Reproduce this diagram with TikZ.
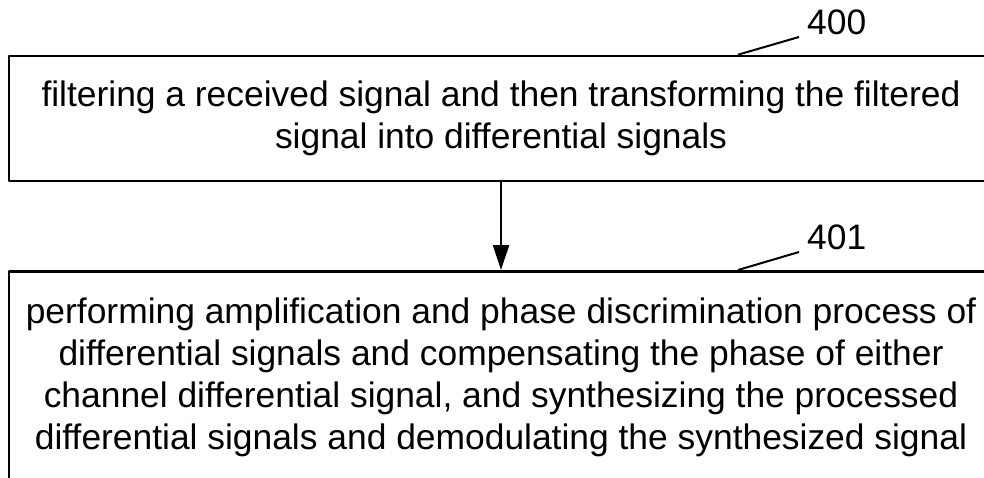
\documentclass[tikz,border=0pt]{standalone}
\usepackage{fontspec}
\setmainfont{Liberation Sans}
\usetikzlibrary{arrows.meta}

\begin{document}
\begin{tikzpicture}[x=1pt, y=-1pt, line join=round, >={Triangle[length=25pt,width=16pt]}, every node/.style={font=\fontsize{35.4}{41.7}\selectfont}, stepbox/.style={draw, line width=2.6pt, inner ysep=0pt, inner xsep=0pt, minimum width=984pt, align=center}, reflabel/.style={inner sep=0pt, anchor=south west}, leader/.style={line width=2pt}]
	\clip (0,0) rectangle (984,478);
	\node[stepbox, minimum height=125pt] (filter) at (501,118.5) {filtering a received signal and then transforming the filtered\\signal into differential signals};
	\node[stepbox, anchor=north, inner ysep=27pt, text depth=20pt] (demod) at (501,270) {performing amplification and phase discrimination process of\\differential signals and compensating the phase of either\\channel differential signal, and synthesizing the processed\\differential signals and demodulating the synthesized signal};
	\draw[line width=2.4pt, ->] (filter.south) -- (demod.north);
	% reference numerals
	\node[reflabel] (num400) at (807,35) {400};
	\node[reflabel] (num401) at (807,250) {401};
	\draw[leader] ([xshift=237pt]filter.north) -- ([shift={(-8,2)}]num400.south west);
	\draw[leader] ([xshift=237pt]demod.north) -- ([shift={(-8,2)}]num401.south west);
\end{tikzpicture}
\end{document}
